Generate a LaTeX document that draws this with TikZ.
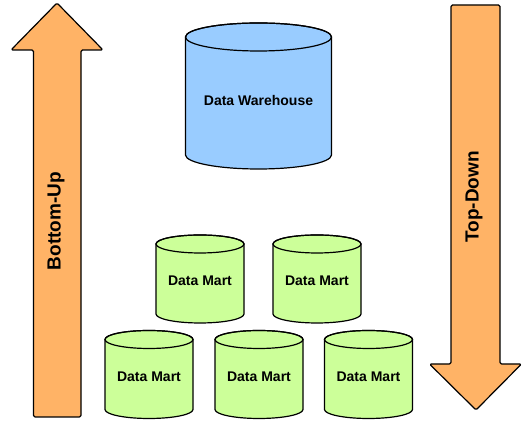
\documentclass[tikz,border=0pt]{standalone}
\usepackage{fontspec}
\setmainfont{Liberation Sans}
\definecolor{dwblue}{HTML}{99CCFF}
\definecolor{dmgreen}{HTML}{CCFF99}
\definecolor{arrorange}{HTML}{FFB366}
\tikzset{
  outl/.style={draw=black, line width=1.2pt, line join=round},
  lbl/.style={font=\bfseries\fontsize{14}{16}\selectfont, inner sep=0pt},
  arrlbl/.style={font=\bfseries\fontsize{19}{22}\selectfont, inner sep=0pt, rotate=90},
}
% \cylshape{cx}{rx}{Ytop}{Ybottom}{ry}{color}
\newcommand\cylshape[6]{%
  \path[outl, fill=#6] (#1-#2,#3) -- (#1-#2,#4)
    arc[start angle=180, end angle=360, x radius=#2, y radius=#5]
    -- (#1+#2,#3)
    arc[start angle=0, end angle=180, x radius=#2, y radius=#5] -- cycle;
  \draw[outl] (#1,#3) ellipse[x radius=#2, y radius=#5];
}
\begin{document}
\begin{tikzpicture}[x=1pt, y=1pt]
\useasboundingbox (0,0) rectangle (523,422);
% left arrow (Bottom-Up)
\draw[outl, fill=arrorange, rounded corners=1.5pt]
  (33.5,5) -- (33.5,372) -- (11,372) -- (57,419) -- (103,372) -- (81,372) -- (81,5) -- cycle;
\node[arrlbl] (bu) at (56,201) {Bottom-Up};
% right arrow (Top-Down)
\draw[outl, fill=arrorange, rounded corners=1.5pt]
  (451,417) -- (451,58) -- (429.5,58) -- (476,12) -- (521.5,58) -- (500,58) -- (500,417) -- cycle;
\node[arrlbl] (td) at (474,225) {Top-Down};
% data warehouse
\cylshape{258.5}{73}{385}{267}{14}{dwblue}
\node[lbl] (dw) at (258.5,321.5) {Data Warehouse};
% data marts, top row
\cylshape{200}{44}{178}{108}{9}{dmgreen}
\node[lbl] (dm1) at (200,141) {Data Mart};
\cylshape{317}{44}{178}{108}{9}{dmgreen}
\node[lbl] (dm2) at (317,141) {Data Mart};
% data marts, bottom row
\cylshape{149}{44}{82.5}{12.5}{9}{dmgreen}
\node[lbl] (dm3) at (149,45) {Data Mart};
\cylshape{259}{44}{82.5}{12.5}{9}{dmgreen}
\node[lbl] (dm4) at (259,45) {Data Mart};
\cylshape{368.5}{44}{82.5}{12.5}{9}{dmgreen}
\node[lbl] (dm5) at (368.5,45) {Data Mart};
\end{tikzpicture}
\end{document}
